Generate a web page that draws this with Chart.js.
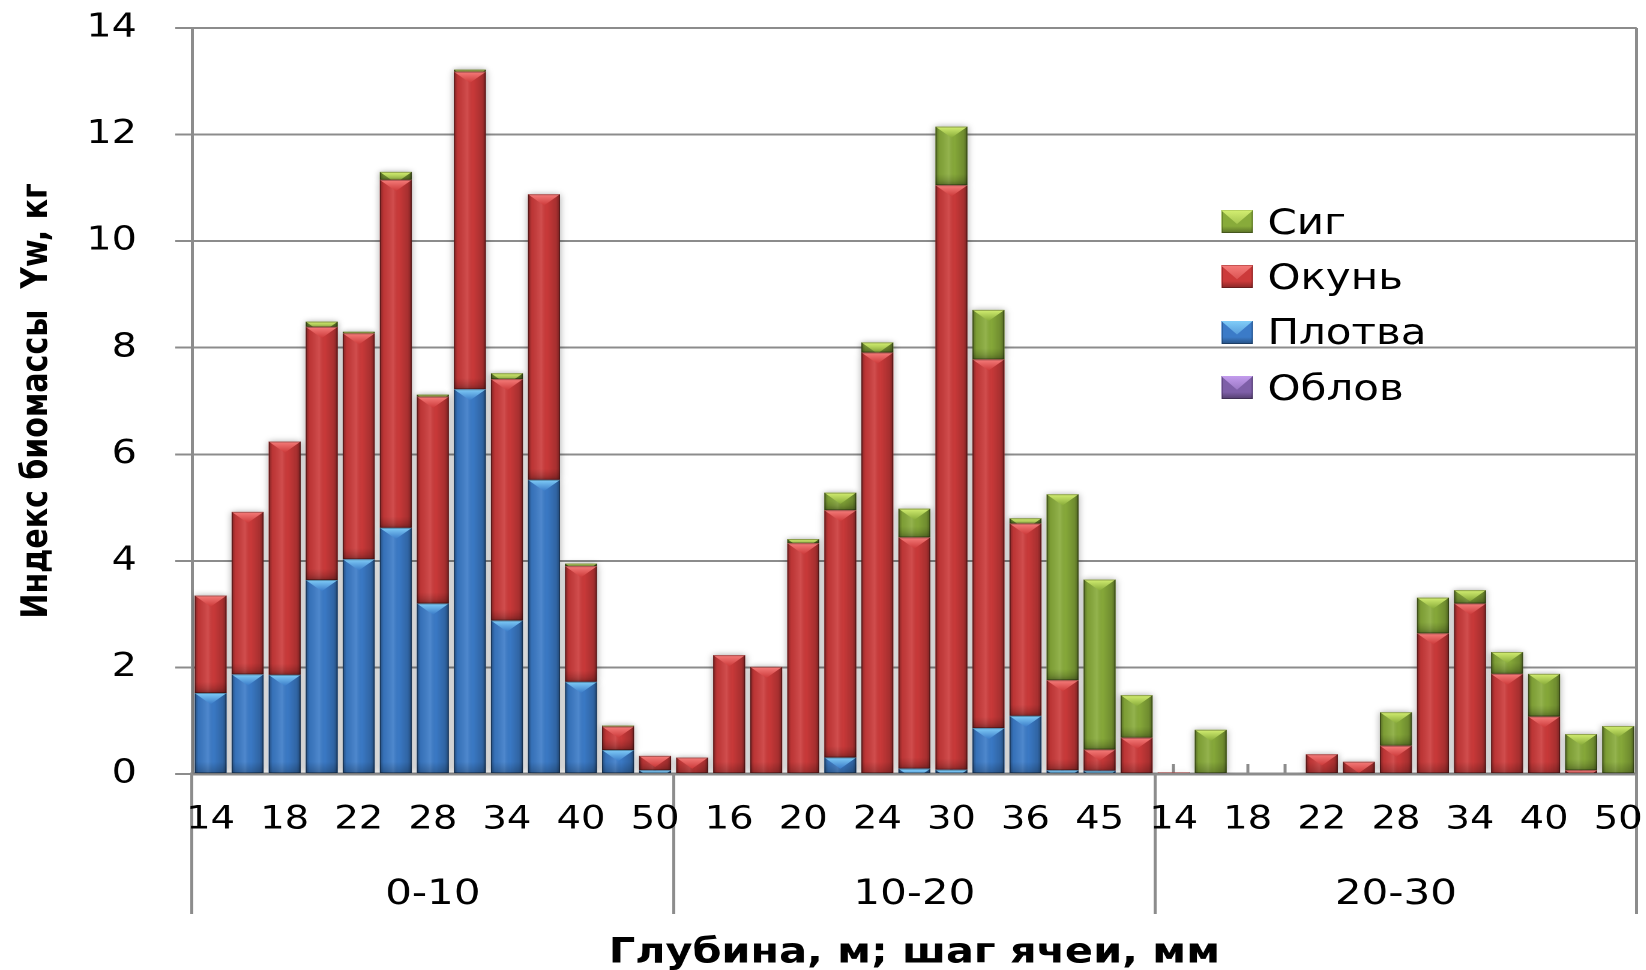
<!DOCTYPE html>
<html lang="ru">
<head>
<meta charset="utf-8">
<title>Индекс биомассы</title>
<script src="https://cdn.jsdelivr.net/npm/chart.js@4.4.1/dist/chart.umd.min.js"></script>
<style>
  html, body { margin: 0; padding: 0; background: #fff; overflow: hidden; }
  /* the chart is laid out narrow and widened, which gives the wide lettering */
  #stage {
    position: absolute; left: 0; top: 0;
    width: 1371.67px; height: 970px;
    transform: scaleX(1.2); transform-origin: 0 0;
  }
  #legend {
    position: absolute; left: 1017.5px; top: 194px;
    font-family: 'DejaVu Sans', sans-serif; font-size: 35px; color: #000;
  }
  .item { display: flex; align-items: center; height: 55.3px; }
  .swatch {
    position: relative; width: 26.7px; height: 23px; margin-right: 12px;
    box-shadow: inset 0 0 0 1px rgba(0,0,0,0.25);
  }
  .swatch i {
    position: absolute; inset: 0;
    clip-path: polygon(0 0, 100% 0, 50% 60%);
  }
</style>
</head>
<body>
<div id="stage">
  <canvas id="chart"></canvas>
  <div id="legend"></div>
</div>
<script>
const FONT = "'DejaVu Sans', sans-serif";
const GRID = "#8c8c8c";

const depthGroups = ["0-10", "10-20", "20-30"];
const meshSizes = ["14", "16", "18", "20", "22", "24", "28", "30", "34", "36", "40", "45", "50"];

// one value per mesh size, groups 0-10 | 10-20 | 20-30
const oblov = [
  0, 0, 0, 0, 0, 0, 0, 0, 0, 0, 0, 0, 0,
  0, 0, 0, 0, 0, 0, 0, 0, 0, 0, 0, 0, 0,
  0, 0, 0, 0, 0, 0, 0, 0, 0, 0, 0, 0, 0,
];
const plotva = [
  1.52, 1.87, 1.86, 3.64, 4.03, 4.62, 3.2, 7.22, 2.88, 5.52, 1.73, 0.45, 0.07,
  0, 0, 0, 0, 0.31, 0, 0.1, 0.08, 0.86, 1.09, 0.07, 0.06, 0,
  0, 0, 0, 0, 0, 0, 0, 0, 0, 0, 0, 0, 0,
];
const okun = [
  1.83, 3.05, 4.38, 4.75, 4.24, 6.53, 3.88, 5.96, 4.53, 5.36, 2.17, 0.44, 0.27,
  0.31, 2.23, 2.01, 4.33, 4.64, 7.91, 4.34, 10.97, 6.92, 3.61, 1.69, 0.4, 0.68,
  0.03, 0, 0, 0, 0.37, 0.23, 0.53, 2.64, 3.2, 1.88, 1.08, 0.07, 0,
];
const sig = [
  0, 0, 0, 0.1, 0.03, 0.15, 0.04, 0.04, 0.11, 0, 0.05, 0.02, 0,
  0, 0, 0, 0.08, 0.33, 0.19, 0.54, 1.1, 0.93, 0.1, 3.49, 3.19, 0.8,
  0, 0.83, 0, 0, 0, 0, 0.63, 0.67, 0.25, 0.41, 0.8, 0.68, 0.9,
];

const series = [
  { label: "Облов", data: oblov, color: "#7e5fa8", light: "#c39ced" },
  { label: "Плотва", data: plotva, color: "#3b7bc8", light: "#80cdf8" },
  { label: "Окунь", data: okun, color: "#cc3a3a", light: "#f67d7b" },
  { label: "Сиг", data: sig, color: "#88ab3a", light: "#d4ef72" },
];

const labels = depthGroups.flatMap(() => meshSizes);

// bevel shading: soft shadow under each segment, dark edges, light chevron on top
const bevel = {
  id: "bevel",
  beforeDatasetDraw(chart) {
    const ctx = chart.ctx;
    ctx.save();
    ctx.shadowColor = "rgba(0, 0, 0, 0.35)";
    ctx.shadowBlur = 12;
  },
  afterDatasetDraw(chart, args) {
    const ctx = chart.ctx;
    ctx.restore();
    const s = series[args.index];
    for (const bar of args.meta.data) {
      const { x, y, base, width } = bar.getProps(["x", "y", "base", "width"], true);
      if (![x, y, base, width].every(Number.isFinite)) continue;
      const top = Math.min(y, base);
      const h = Math.abs(base - y);
      if (h < 0.5) continue;
      const left = x - width / 2;
      ctx.save();
      ctx.beginPath();
      ctx.rect(left, top, width, h);
      ctx.clip();

      const g = ctx.createLinearGradient(left, 0, left + width, 0);
      g.addColorStop(0, "rgba(0,0,0,0.38)");
      g.addColorStop(0.12, "rgba(0,0,0,0.08)");
      g.addColorStop(0.42, "rgba(255,255,255,0.1)");
      g.addColorStop(0.6, "rgba(0,0,0,0.02)");
      g.addColorStop(0.88, "rgba(0,0,0,0.18)");
      g.addColorStop(1, "rgba(0,0,0,0.42)");
      ctx.fillStyle = g;
      ctx.fillRect(left, top, width, h);

      const d = width * 0.42;
      const gb = ctx.createLinearGradient(0, top + h - d, 0, top + h);
      gb.addColorStop(0, "rgba(0,0,0,0)");
      gb.addColorStop(1, "rgba(0,0,0,0.22)");
      ctx.fillStyle = gb;
      ctx.fillRect(left, top + h - d, width, d);

      const gc = ctx.createLinearGradient(0, top, 0, top + d);
      gc.addColorStop(0, s.light);
      gc.addColorStop(1, s.color);
      ctx.beginPath();
      ctx.moveTo(left, top);
      ctx.lineTo(left + width, top);
      ctx.lineTo(x, top + d);
      ctx.closePath();
      ctx.fillStyle = gc;
      ctx.fill();

      ctx.strokeStyle = "rgba(0,0,0,0.3)";
      ctx.lineWidth = 1;
      ctx.strokeRect(left + 0.5, top + 0.5, width - 1, h - 1);
      ctx.restore();
    }
  },
};

// keep the x axes from widening the side margins
const noSidePadding = (height) => (scale) => {
  scale.height = height;
  scale.paddingLeft = 0;
  scale.paddingRight = 0;
};

new Chart(document.getElementById("chart"), {
  type: "bar",
  data: {
    labels,
    datasets: series.map((s) => ({
      label: s.label,
      data: s.data,
      xAxisID: "x",
      yAxisID: "y",
      backgroundColor: s.color,
      borderWidth: 0,
      barPercentage: 0.865,
      categoryPercentage: 1,
    })),
  },
  plugins: [bevel],
  options: {
    responsive: true,
    maintainAspectRatio: false,
    animation: false,
    devicePixelRatio: 2,
    layout: { padding: { top: 28, right: 8.3, bottom: 0, left: 0 } },
    plugins: { legend: { display: false }, tooltip: { enabled: false } },
    scales: {
      // mesh sizes
      x: {
        stacked: true,
        weight: 1,
        z: 1,
        offset: true,
        border: { color: GRID, width: 3 },
        grid: { offset: false, drawOnChartArea: false, tickLength: -10, tickColor: GRID, tickWidth: 2.5 },
        ticks: {
          autoSkip: false,
          maxRotation: 0,
          minRotation: 0,
          padding: 37,
          color: "#000",
          font: { family: FONT, size: 32 },
          callback: function (value, index) {
            return index % 2 === 0 ? this.getLabelForValue(value) : "";
          },
        },
        afterFit: noSidePadding(90),
      },
      // group separators running down from the axis line
      x2: {
        type: "category",
        labels: depthGroups,
        position: "bottom",
        weight: 0,
        offset: true,
        border: { display: false },
        grid: {
          offset: true,
          color: (c) => (c.type === "scale" ? GRID : "rgba(0,0,0,0)"),
          lineWidth: 2.5,
          tickColor: GRID,
          tickWidth: 2.5,
          tickLength: 140,
        },
        ticks: { display: false },
        afterFit: noSidePadding(0),
      },
      // depth groups and the axis title
      x3: {
        type: "category",
        labels: depthGroups,
        position: "bottom",
        weight: 2,
        offset: true,
        border: { display: false },
        grid: { display: false },
        ticks: {
          autoSkip: false,
          maxRotation: 0,
          padding: 2,
          color: "#000",
          font: { family: FONT, size: 35 },
        },
        title: {
          display: true,
          text: "Глубина, м; шаг ячеи, мм",
          color: "#000",
          font: { family: FONT, size: 34.5, weight: "bold" },
          padding: { top: 0, bottom: -4 },
        },
        afterFit: noSidePadding(106),
      },
      y: {
        stacked: true,
        min: 0,
        max: 14,
        border: { color: GRID, width: 2.5 },
        grid: { color: GRID, lineWidth: 2, tickLength: 14, tickColor: GRID },
        ticks: { stepSize: 2, padding: 32, color: "#000", font: { family: FONT, size: 33 } },
        title: {
          display: true,
          text: "Индекс биомассы  Yw, кг",
          color: "#000",
          font: { family: FONT, size: 30, weight: "bold" },
          padding: { top: 13, bottom: 0 },
        },
        afterFit: (scale) => {
          scale.width = 160;
          scale.paddingTop = 0;
          scale.paddingBottom = 0;
        },
      },
    },
  },
});

// legend, top entry is the top of the stack
const legend = document.getElementById("legend");
for (const s of [...series].reverse()) {
  const row = document.createElement("div");
  row.className = "item";
  const sw = document.createElement("span");
  sw.className = "swatch";
  sw.style.background = `linear-gradient(180deg, ${s.color}, ${s.color} 70%, rgba(0,0,0,0.35))`;
  sw.style.backgroundColor = s.color;
  const tri = document.createElement("i");
  tri.style.background = `linear-gradient(180deg, ${s.light}, ${s.color})`;
  sw.appendChild(tri);
  const txt = document.createElement("span");
  txt.textContent = s.label;
  row.append(sw, txt);
  legend.appendChild(row);
}
</script>
</body>
</html>
